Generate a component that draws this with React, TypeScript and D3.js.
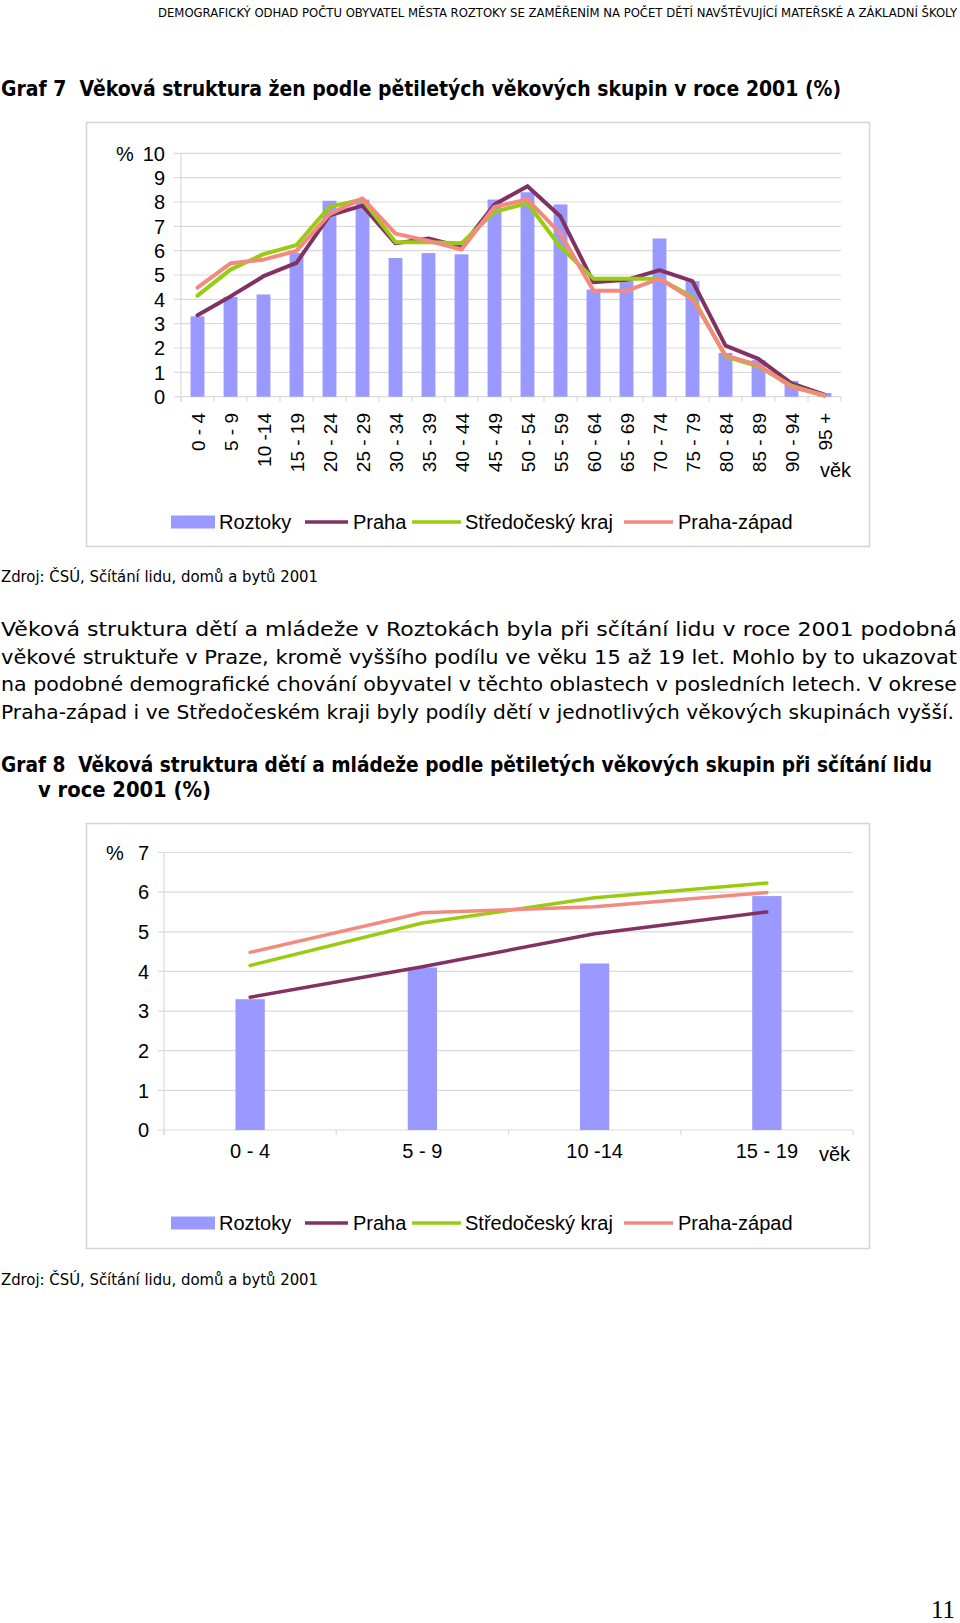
import React from "react";
import * as d3 from "d3";

// age groups (x categories)
const ageGroups = [
  "0 - 4", "5 - 9", "10 -14", "15 - 19", "20 - 24", "25 - 29", "30 - 34",
  "35 - 39", "40 - 44", "45 - 49", "50 - 54", "55 - 59", "60 - 64", "65 - 69",
  "70 - 74", "75 - 79", "80 - 84", "85 - 89", "90 - 94", "95 +",
];

// share of women in each age group (%)
const roztoky = [3.3, 4.1, 4.2, 5.9, 8.05, 8.1, 5.7, 5.9, 5.85, 8.1, 8.4, 7.9, 4.4, 4.8, 6.5, 4.75, 1.8, 1.5, 0.65, 0.15];
const praha = [3.35, 4.12, 4.95, 5.5, 7.45, 7.85, 6.3, 6.5, 6.15, 7.9, 8.65, 7.4, 4.7, 4.8, 5.2, 4.75, 2.1, 1.55, 0.55, 0.08];
const stredocesky = [4.15, 5.22, 5.86, 6.23, 7.8, 8.1, 6.35, 6.35, 6.3, 7.6, 7.95, 6.15, 4.85, 4.85, 4.85, 4.1, 1.65, 1.25, 0.45, 0.04];
const prahaZapad = [4.48, 5.48, 5.63, 5.99, 7.5, 8.15, 6.7, 6.4, 6.05, 7.8, 8.1, 6.7, 4.35, 4.35, 4.85, 4.0, 1.7, 1.3, 0.4, 0.06];

// children and youth = first four groups
const childGroups = ageGroups.slice(0, 4);

const yTicks7 = [0, 1, 2, 3, 4, 5, 6, 7, 8, 9, 10];
const yTicks8 = [0, 1, 2, 3, 4, 5, 6, 7];

const seriesNames = ["Roztoky", "Praha", "Středočeský kraj", "Praha-západ"];
const colors = ["#9999FF", "#823262", "#99CC11", "#F38A80"];

const FONT = "'Liberation Sans', Arial, sans-serif";
const DOC_FONT = "'DejaVu Sans Condensed', 'DejaVu Sans', sans-serif";
const BODY_FONT = "'DejaVu Sans', sans-serif";

interface ChartCfg {
  box: [number, number, number, number];
  left: number;
  right: number;
  top: number;
  bottom: number;
  yMax: number;
  yTicks: number[];
  yLabelX: number;
  pctX: number;
  gridStart: number;
  barFrac: number;
  rotated: boolean;
  xLabelY: number;
  vekX: number;
  vekY: number;
  legendY: number;
  lineWidth: number;
}

// legend layout (swatch start, swatch end, text start)
const legendPos = [
  [171, 215, 219],
  [305, 348, 353],
  [412, 461, 465],
  [624, 673, 678],
];

function AgeChart({ cfg, cats, n }: { cfg: ChartCfg; cats: string[]; n: number }) {
  const x = d3.scaleBand<string>().domain(cats).range([cfg.left, cfg.right]);
  const y = d3.scaleLinear().domain([0, cfg.yMax]).range([cfg.bottom, cfg.top]);
  const bw = x.bandwidth();
  const cx = (c: string) => (x(c) ?? 0) + bw / 2;
  const barW = bw * cfg.barFrac;

  const lineSeries = [praha, stredocesky, prahaZapad].map((s) => s.slice(0, n));
  const bars = roztoky.slice(0, n);
  const line = d3
    .line<number>()
    .x((_, i) => cx(cats[i]))
    .y((d) => y(d));

  const [bx, by, bwid, bh] = cfg.box;
  const bounds = cats.map((c) => x(c) ?? 0).concat([cfg.right]);

  return (
    <g>
      <rect x={bx + 0.5} y={by + 0.5} width={bwid} height={bh} fill="#fff" stroke="#d4d4d4" strokeWidth={1.5} />
      {cfg.yTicks.map((t) => (
        <g key={t}>
          <line x1={cfg.gridStart} x2={cfg.right} y1={y(t)} y2={y(t)} stroke="#dadada" strokeWidth={1.2} />
          <text x={cfg.yLabelX} y={y(t)} dy="0.36em" textAnchor="end" fontFamily={FONT} fontSize={20} fill="#000">
            {t}
          </text>
        </g>
      ))}
      <text x={cfg.pctX} y={y(cfg.yMax)} dy="0.36em" fontFamily={FONT} fontSize={20}>
        %
      </text>
      <line x1={cfg.left} x2={cfg.left} y1={cfg.top} y2={cfg.bottom + 5} stroke="#dadada" strokeWidth={1.2} />
      {bounds.map((b, i) => (
        <line key={i} x1={b} x2={b} y1={cfg.bottom} y2={cfg.bottom + 5} stroke="#dadada" strokeWidth={1.2} />
      ))}
      {bars.map((v, i) => (
        <rect key={i} x={cx(cats[i]) - barW / 2} y={y(v)} width={barW} height={y(0) - y(v)} fill={colors[0]} />
      ))}
      {lineSeries.map((s, i) => (
        <path
          key={i}
          d={line(s) ?? ""}
          fill="none"
          stroke={colors[i + 1]}
          strokeWidth={cfg.lineWidth}
          strokeLinejoin="round"
          strokeLinecap="round"
        />
      ))}
      {cats.map((c) =>
        cfg.rotated ? (
          <text
            key={c}
            transform={`translate(${cx(c) + 7},${cfg.xLabelY}) rotate(-90)`}
            textAnchor="end"
            fontFamily={FONT}
            fontSize={19}
            style={{ whiteSpace: "pre" }}
          >
            {c}
          </text>
        ) : (
          <text key={c} x={cx(c)} y={cfg.xLabelY} textAnchor="middle" fontFamily={FONT} fontSize={20} style={{ whiteSpace: "pre" }}>
            {c}
          </text>
        )
      )}
      <text x={cfg.vekX} y={cfg.vekY} fontFamily={FONT} fontSize={20}>
        věk
      </text>
      {seriesNames.map((name, i) => {
        const [s0, s1, tx] = legendPos[i];
        return (
          <g key={name}>
            {i === 0 ? (
              <rect x={s0} y={cfg.legendY - 6.5} width={s1 - s0} height={13} fill={colors[0]} />
            ) : (
              <line x1={s0} x2={s1} y1={cfg.legendY} y2={cfg.legendY} stroke={colors[i]} strokeWidth={3.5} />
            )}
            <text x={tx} y={cfg.legendY} dy="0.36em" fontFamily={FONT} fontSize={20}>
              {name}
            </text>
          </g>
        );
      })}
    </g>
  );
}

const chart7: ChartCfg = {
  box: [86, 122, 783, 424],
  left: 181,
  right: 841,
  top: 153.3,
  bottom: 396.7,
  yMax: 10,
  yTicks: yTicks7,
  yLabelX: 165,
  pctX: 116,
  gridStart: 174,
  barFrac: 0.42,
  rotated: true,
  xLabelY: 413,
  vekX: 820,
  vekY: 477,
  legendY: 522,
  lineWidth: 4,
};

const chart8: ChartCfg = {
  box: [86, 823, 783, 425],
  left: 164,
  right: 853,
  top: 852.5,
  bottom: 1130,
  yMax: 7,
  yTicks: yTicks8,
  yLabelX: 149,
  pctX: 106,
  gridStart: 158,
  barFrac: 0.17,
  rotated: false,
  xLabelY: 1158,
  vekX: 819,
  vekY: 1161,
  legendY: 1223,
  lineWidth: 3.5,
};

const paragraph = [
  "Věková struktura dětí a mládeže v Roztokách byla při sčítání lidu v roce 2001 podobná",
  "věkové struktuře v Praze, kromě vyššího podílu ve věku 15 až 19 let. Mohlo by to ukazovat",
  "na podobné demografické chování obyvatel v těchto oblastech v posledních letech. V okrese",
  "Praha-západ i ve Středočeském kraji byly podíly dětí v jednotlivých věkových skupinách vyšší.",
];

export default function App() {
  return (
    <svg
      width={960}
      height={1623}
      viewBox="0 0 960 1623"
      style={{ position: "absolute", left: 0, top: 0, background: "#fff" }}
    >
      <rect width={960} height={1623} fill="#fff" />
      <text x={158} y={17} fontFamily={DOC_FONT} fontSize={12} textLength={799} lengthAdjust="spacingAndGlyphs">
        DEMOGRAFICKÝ ODHAD POČTU OBYVATEL MĚSTA ROZTOKY SE ZAMĚŘENÍM NA POČET DĚTÍ NAVŠTĚVUJÍCÍ MATEŘSKÉ A ZÁKLADNÍ ŠKOLY
      </text>
      <text
        x={1}
        y={96}
        fontFamily={DOC_FONT}
        fontWeight="bold"
        fontSize={21}
        textLength={840}
        lengthAdjust="spacingAndGlyphs"
        style={{ whiteSpace: "pre" }}
      >
        {"Graf 7  Věková struktura žen podle pětiletých věkových skupin v roce 2001 (%)"}
      </text>

      <AgeChart cfg={chart7} cats={ageGroups} n={ageGroups.length} />

      <text x={1} y={582} fontFamily={DOC_FONT} fontSize={16} textLength={317} lengthAdjust="spacingAndGlyphs">
        Zdroj: ČSÚ, Sčítání lidu, domů a bytů 2001
      </text>

      {paragraph.map((l, i) => (
        <text
          key={i}
          x={1}
          y={636 + i * 27.7}
          fontFamily={BODY_FONT}
          fontSize={19}
          textLength={i === 3 ? 953 : 956}
          lengthAdjust="spacingAndGlyphs"
        >
          {l}
        </text>
      ))}

      <text
        x={1}
        y={772}
        fontFamily={DOC_FONT}
        fontWeight="bold"
        fontSize={21}
        textLength={931}
        lengthAdjust="spacingAndGlyphs"
        style={{ whiteSpace: "pre" }}
      >
        {"Graf 8  Věková struktura dětí a mládeže podle pětiletých věkových skupin při sčítání lidu"}
      </text>
      <text x={38} y={797} fontFamily={DOC_FONT} fontWeight="bold" fontSize={21} textLength={173} lengthAdjust="spacingAndGlyphs">
        v roce 2001 (%)
      </text>

      <AgeChart cfg={chart8} cats={childGroups} n={childGroups.length} />

      <text x={1} y={1285} fontFamily={DOC_FONT} fontSize={16} textLength={317} lengthAdjust="spacingAndGlyphs">
        Zdroj: ČSÚ, Sčítání lidu, domů a bytů 2001
      </text>

      <text x={955} y={1618} textAnchor="end" fontFamily="'Liberation Serif', 'DejaVu Serif', serif" fontSize={25}>
        11
      </text>
    </svg>
  );
}
